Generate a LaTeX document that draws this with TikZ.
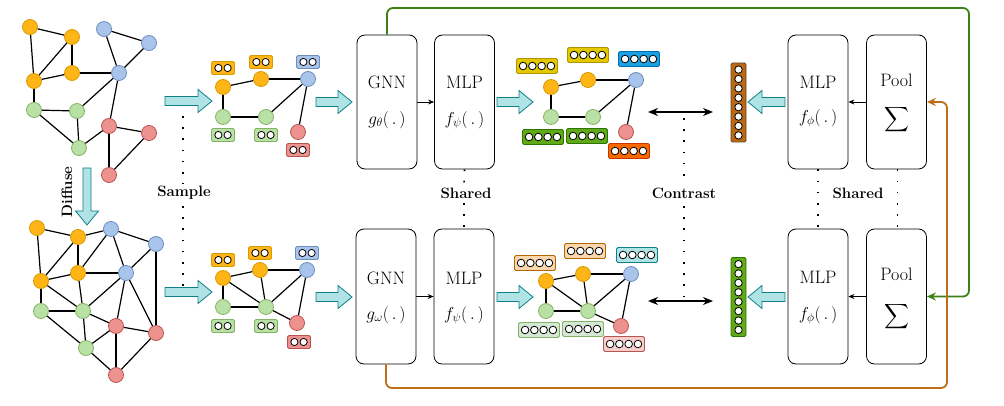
\documentclass[tikz,border=0pt]{standalone}
\usepackage{amsmath}
\usepackage{exscale}
\usetikzlibrary{arrows.meta}
\definecolor{cO}{HTML}{FFB515}\definecolor{cOd}{HTML}{D79B00}
\definecolor{cB}{HTML}{A9C4EB}\definecolor{cBd}{HTML}{6C8EBF}
\definecolor{cG}{HTML}{B9E0A5}\definecolor{cGd}{HTML}{82B366}
\definecolor{cR}{HTML}{EE9290}\definecolor{cRd}{HTML}{B85450}
\definecolor{cArr}{HTML}{B0E3E6}\definecolor{cArrD}{HTML}{0E8088}
\definecolor{vY}{HTML}{E3C800}\definecolor{vYd}{HTML}{B09500}
\definecolor{vB}{HTML}{1BA1E2}\definecolor{vBd}{HTML}{006EAF}
\definecolor{vG}{HTML}{60A917}\definecolor{vGd}{HTML}{2D7600}
\definecolor{vO}{HTML}{FA6800}\definecolor{vOd}{HTML}{C73500}
\definecolor{lO}{HTML}{FAD7AC}\definecolor{lOd}{HTML}{B46504}
\definecolor{lT}{HTML}{B0E3E6}\definecolor{lTd}{HTML}{0E8088}
\definecolor{lG}{HTML}{D5E8D4}\definecolor{lGd}{HTML}{82B366}
\definecolor{lR}{HTML}{F8CECC}\definecolor{lRd}{HTML}{B85450}
\definecolor{vBr}{HTML}{BA6812}\definecolor{vBrd}{HTML}{5A4632}
\definecolor{lineG}{HTML}{3C8214}\definecolor{lineO}{HTML}{BE6E14}
\newcommand\barrow[5]{\draw[carrow] (#1,#5-4.5) -- (#2,#5-4.5) -- (#2,#5-11.5) -- (#3,#5) -- (#2,#5+11.5) -- (#2,#5+4.5) -- (#1,#5+4.5) -- cycle; \coordinate (#4) at (#3,#5);}
\newcommand\tagtwo[5]{\node[tagbox, fill=#4, draw=#5] (#1) at (#2,#3) {};
  \foreach \k in {-4.6,4.6} \draw[dotc] (#2+\k,#3) circle (3.6pt);}
\newcommand\vecfour[5]{\node[vbox, fill=#4, draw=#5] (#1) at (#2,#3) {};
  \foreach \k in {-13.95,-4.65,4.65,13.95} \draw[dotc] (#2+\k,#3) circle (3.8pt);}
\newcommand\veceight[5]{\node[vvbox, fill=#4, draw=#5] (#1) at (#2,#3) {};
  \foreach \k in {-32.9,-23.5,-14.1,-4.7,4.7,14.1,23.5,32.9} \draw[dotc] (#2,#3+\k) circle (3.7pt);}
\begin{document}
\begin{tikzpicture}[x=1pt,y=-1pt,
  edge/.style={line width=1.2pt},
  gn/.style={circle, minimum size=15pt, inner sep=0pt, line width=0.8pt},
  nO/.style={gn, fill=cO, draw=cOd}, nB/.style={gn, fill=cB, draw=cBd},
  nG/.style={gn, fill=cG, draw=cGd}, nR/.style={gn, fill=cR, draw=cRd},
  tagbox/.style={rounded corners=1.5pt, minimum width=23pt, minimum height=13pt, inner sep=0pt, line width=0.9pt},
  vbox/.style={rounded corners=1.5pt, minimum width=41pt, minimum height=15pt, inner sep=0pt, line width=0.9pt},
  vvbox/.style={rounded corners=1.5pt, minimum width=15pt, minimum height=79pt, inner sep=0pt, line width=0.9pt},
  dotc/.style={fill=white, draw=black, line width=0.8pt},
  carrow/.style={fill=cArr, draw=cArrD, line width=0.8pt},
  blk/.style={draw, rounded corners=8pt, line width=0.8pt, minimum width=60pt, inner sep=0pt},
  lab/.style={font=\fontsize{18}{20}\selectfont, inner sep=0pt},
  bl/.style={font=\fontsize{15}{17}\selectfont\bfseries, inner sep=0pt},
  dots/.style={line width=1.7pt, dash pattern=on 1.7pt off 9.5pt},
  small/.style={line width=0.8pt, -{Stealth[length=6pt,width=5pt]}},
  contr/.style={line width=1.8pt, {Stealth[length=10pt,width=8pt]}-{Stealth[length=10pt,width=8pt]}},
  fb/.style={line width=1.8pt, rounded corners=6pt, -{Stealth[length=9pt,width=8pt]}},
]
\useasboundingbox (0,0) rectangle (1004,406);
% ---------- top-left graph
\node[nO] (A1) at (30,27) {}; \node[nO] (A2) at (72,37) {}; \node[nO] (A3) at (34,81) {};
\node[nO] (A4) at (72,73) {}; \node[nB] (A5) at (104,29) {}; \node[nB] (A6) at (149,43) {};
\node[nB] (A7) at (119,73) {}; \node[nG] (A8) at (34,110) {}; \node[nG] (A9) at (77,111) {};
\node[nG] (A10) at (79,148) {}; \node[nR] (A11) at (109,126) {}; \node[nR] (A12) at (149,133) {};
\node[nR] (A13) at (109,175) {};
\foreach \a/\b in {1/2,1/3,2/3,2/4,3/4,4/7,5/6,5/7,6/7,7/9,7/11,3/8,8/9,8/10,9/10,10/11,11/12,11/13,12/13}
  \draw[edge] (A\a) -- (A\b);
% ---------- bottom-left graph
\node[nO] (B1) at (37,228) {}; \node[nO] (B2) at (78,237) {}; \node[nO] (B3) at (41,281) {};
\node[nO] (B4) at (78,273) {}; \node[nB] (B5) at (111,229) {}; \node[nB] (B6) at (156,244) {};
\node[nB] (B7) at (126,273) {}; \node[nG] (B8) at (41,311) {}; \node[nG] (B9) at (83,311) {};
\node[nG] (B10) at (86,348) {}; \node[nR] (B11) at (116,326) {}; \node[nR] (B12) at (156,333) {};
\node[nR] (B13) at (116,375) {};
\foreach \a/\b in {1/2,1/3,2/3,2/4,2/5,3/4,3/8,3/9,4/5,4/7,4/9,5/6,5/7,6/7,6/12,7/9,7/11,7/12,8/9,8/10,9/10,9/11,10/11,10/13,11/12,11/13,12/13}
  \draw[edge] (B\a) -- (B\b);
% diffuse arrow
\draw[carrow] (83,168) -- (91,168) -- (91,211) -- (98.5,211) -- (87,225) -- (75.5,211) -- (83,211) -- cycle;
\node[bl, rotate=90] (diff) at (67,192) {Diffuse};
% ---------- sample arrows
\barrow{165}{198}{212}{sa1}{101}
\barrow{165}{198}{212}{sa2}{292}
% ---------- top sample graph
\node[nO] (C1) at (223,87) {}; \node[nO] (C2) at (261,79) {}; \node[nB] (C3) at (308,79) {};
\node[nG] (C4) at (223,117) {}; \node[nG] (C5) at (266,117) {}; \node[nR] (C6) at (298,132) {};
\foreach \a/\b in {1/2,2/3,1/4,4/5,5/3,3/6} \draw[edge] (C\a) -- (C\b);
\tagtwo{tc1}{223}{68}{cO}{cOd} \tagtwo{tc2}{261}{62}{cO}{cOd} \tagtwo{tc3}{308}{62}{cB}{cBd}
\tagtwo{tc4}{223}{135}{cG}{cGd} \tagtwo{tc5}{266}{135}{cG}{cGd} \tagtwo{tc6}{298}{150}{cR}{cRd}
% ---------- bottom sample graph
\node[nO] (D1) at (223,278) {}; \node[nO] (D2) at (260,270) {}; \node[nB] (D3) at (307,270) {};
\node[nG] (D4) at (223,307) {}; \node[nG] (D5) at (266,307) {}; \node[nR] (D6) at (297,323) {};
\foreach \a/\b in {1/2,2/3,1/4,1/5,2/5,4/5,5/3,5/6,3/6} \draw[edge] (D\a) -- (D\b);
\tagtwo{td1}{223}{260}{cO}{cOd} \tagtwo{td2}{260}{253}{cO}{cOd} \tagtwo{td3}{307}{253}{cB}{cBd}
\tagtwo{td4}{223}{326}{cG}{cGd} \tagtwo{td5}{266}{326}{cG}{cGd} \tagtwo{td6}{299}{342}{cR}{cRd}
% sample dotted line
\coordinate (s1) at (183,116); \coordinate (s2) at (183,184);
\coordinate (s3) at (183,206); \coordinate (s4) at (183,286);
\draw[dots] (s1) -- (s2); \draw[dots] (s3) -- (s4);
\node[bl] (samp) at (184,193) {Sample};
% ---------- encoder arrows in
\barrow{316}{338}{352}{ga1}{102}
\barrow{316}{338}{352}{ga2}{297}
% ---------- blocks
\node[blk, minimum height=134pt] (gnnT) at (387,102) {};
\node[blk, minimum height=134pt] (mlpT) at (464.5,102) {};
\node[blk, minimum height=135pt] (gnnB) at (386,296.5) {};
\node[blk, minimum height=135pt] (mlpB) at (464,296.5) {};
\node[blk, minimum height=134pt] (mlpRT) at (818,102) {};
\node[blk, minimum height=134pt] (poolT) at (896.5,102) {};
\node[blk, minimum height=135pt] (mlpRB) at (818,296.5) {};
\node[blk, minimum height=135pt] (poolB) at (896.5,296.5) {};
\node[lab] (t1) at (387,82) {GNN}; \node[lab] (t2) at (387,120) {$g_{\theta}(\,.\,)$};
\node[lab] (t3) at (464.5,82) {MLP}; \node[lab] (t4) at (464.5,120) {$f_{\psi}(\,.\,)$};
\node[lab] (t5) at (386,278) {GNN}; \node[lab] (t6) at (386,315) {$g_{\omega}(\,.\,)$};
\node[lab] (t7) at (464,278) {MLP}; \node[lab] (t8) at (464,315) {$f_{\psi}(\,.\,)$};
\node[lab] (t9) at (818,82) {MLP}; \node[lab] (t10) at (818,118) {$f_{\phi}(\,.\,)$};
\node[lab] (t11) at (896.5,80) {Pool}; \node[lab] (t12) at (896.5,120) {$\displaystyle\sum$};
\node[lab] (t13) at (818,277) {MLP}; \node[lab] (t14) at (818,315) {$f_{\phi}(\,.\,)$};
\node[lab] (t15) at (896.5,274) {Pool}; \node[lab] (t16) at (896.5,317) {$\displaystyle\sum$};
\draw[small] (gnnT.east) -- (mlpT.west);
\draw[small] (gnnB.east) -- (mlpB.west);
\draw[small] (poolT.west) -- (mlpRT.east);
\draw[small] (poolB.west) -- (mlpRB.east);
% shared dotted lines
\coordinate (sh1) at (464,185); \coordinate (sh2) at (464,203);
\draw[dots] (mlpT.south) -- (sh1); \draw[dots] (sh2) -- (mlpB.north);
\node[bl] (shL) at (466,193) {Shared};
\draw[dots] (mlpRT.south) -- (mlpRB.north);
\draw[dots] ([xshift=1pt]poolT.south) -- ([xshift=1pt]poolB.north);
\node[bl] (shR) at (858,193) {Shared};
% ---------- output arrows
\barrow{497}{519}{533}{oa1}{102}
\barrow{497}{519}{533}{oa2}{297}
% ---------- top output graph
\node[nO] (E1) at (551,87) {}; \node[nO] (E2) at (588,80) {}; \node[nB] (E3) at (636,80) {};
\node[nG] (E4) at (551,117) {}; \node[nG] (E5) at (593,117) {}; \node[nR] (E6) at (626,132) {};
\foreach \a/\b in {1/2,2/3,1/4,4/5,5/3,3/6} \draw[edge] (E\a) -- (E\b);
\vecfour{ve1}{537}{66}{vY}{vYd} \vecfour{ve2}{588}{55}{vY}{vYd} \vecfour{ve3}{639}{59}{vB}{vBd}
\vecfour{ve4}{543}{137}{vG}{vGd} \vecfour{ve5}{587}{136}{vG}{vGd} \vecfour{ve6}{629}{151}{vO}{vOd}
% ---------- bottom output graph
\node[nO] (F1) at (546,281) {}; \node[nO] (F2) at (583,274) {}; \node[nB] (F3) at (631,274) {};
\node[nG] (F4) at (546,311) {}; \node[nG] (F5) at (588,311) {}; \node[nR] (F6) at (621,326) {};
\foreach \a/\b in {1/2,2/3,1/4,1/5,2/5,4/5,5/3,5/6,3/6} \draw[edge] (F\a) -- (F\b);
\vecfour{vf1}{535}{263}{lO}{lOd} \vecfour{vf2}{585}{251}{lO}{lOd} \vecfour{vf3}{637}{255}{lT}{lTd}
\vecfour{vf4}{539}{330}{lG}{lGd} \vecfour{vf5}{583}{329}{lG}{lGd} \vecfour{vf6}{624}{344}{lR}{lRd}
% ---------- graph vectors
\veceight{gv1}{738.5}{102.5}{vBr}{vBrd}
\veceight{gv2}{738.5}{297}{vG}{vGd}
\barrow{785}{762}{748}{la1}{102}
\barrow{785}{762}{748}{la2}{297}
% ---------- contrast
\coordinate (c1) at (648,112); \coordinate (c2) at (713,112);
\coordinate (c3) at (648,301); \coordinate (c4) at (713,301);
\draw[contr] (c1) -- (c2); \draw[contr] (c3) -- (c4);
\coordinate (k1) at (684,118); \coordinate (k2) at (684,184);
\coordinate (k3) at (684,206); \coordinate (k4) at (684,298);
\draw[dots] (k1) -- (k2); \draw[dots] (k3) -- (k4);
\node[bl] (contr) at (684,193) {Contrast};
% ---------- feedback lines
\coordinate (g1) at (969,8); \coordinate (o1) at (947,388);
\draw[fb, lineG] (gnnT.north) |- (g1) |- (poolB.east);
\draw[fb, lineO] (gnnB.south) |- (o1) |- (poolT.east);
\end{tikzpicture}
\end{document}
